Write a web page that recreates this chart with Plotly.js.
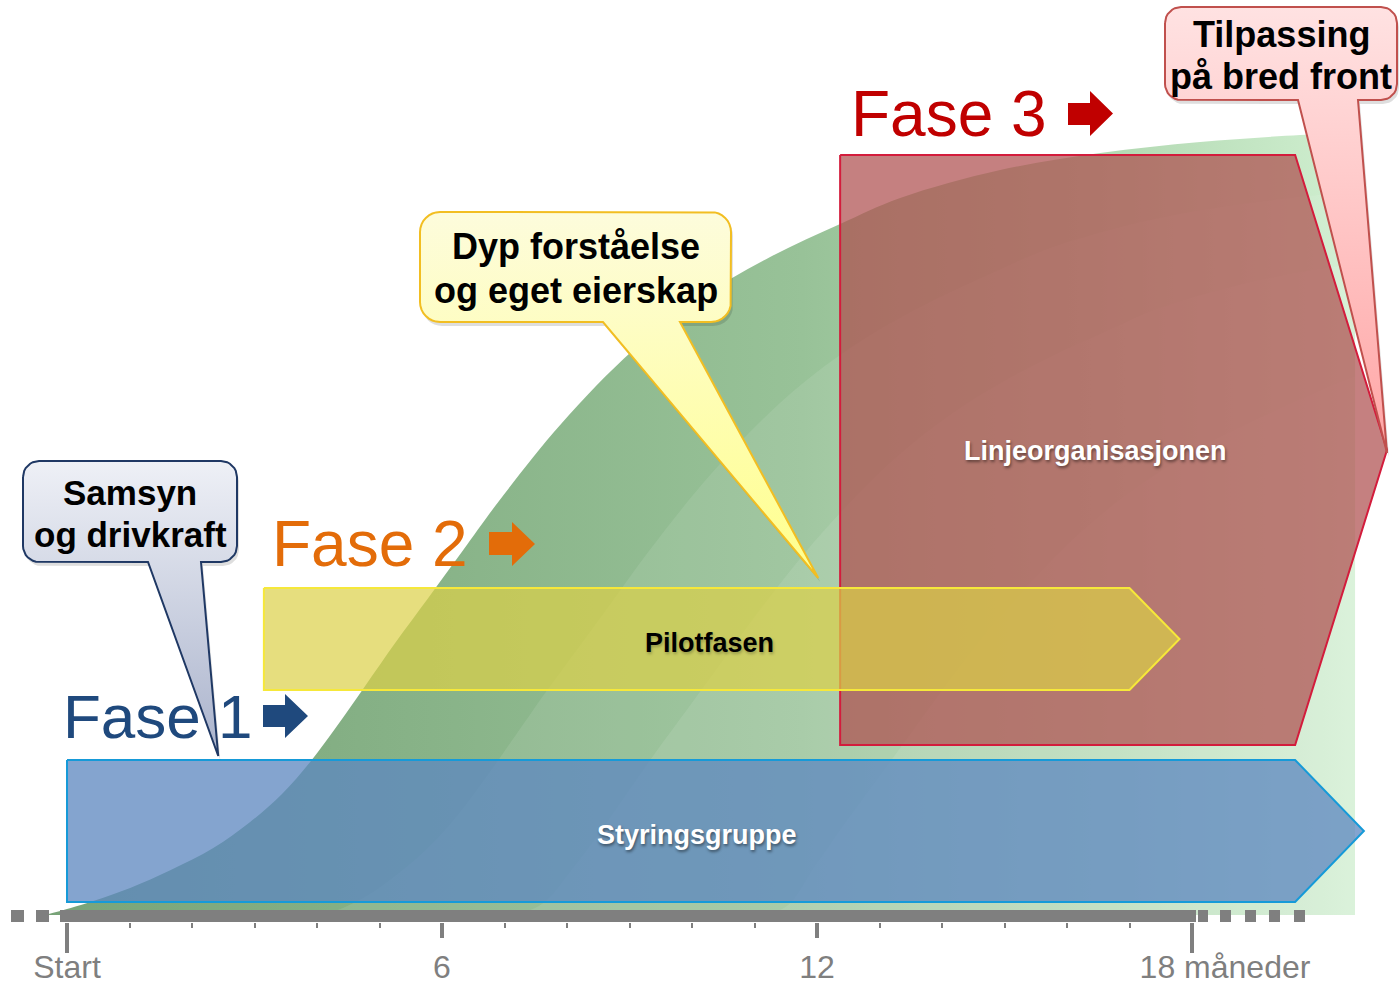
<!DOCTYPE html>
<html><head><meta charset="utf-8">
<script src="https://cdn.plot.ly/plotly-3.0.1.min.js"></script>
<style>html,body{margin:0;padding:0;background:#fff;overflow:hidden}#chart{width:1399px;height:984px;}</style>
</head><body><div id="chart"></div>
<script>
// ===== data =====
const tickMonths = [0, 6, 12, 18];
const tickLabels = ['Start', '6', '12', '18 måneder'];
const minorMonths = [1, 2, 3, 4, 5, 7, 8, 9, 10, 11, 13, 14, 15, 16, 17];

const phaseNames = ['Fase 1', 'Fase 2', 'Fase 3'];

const blockNames = ['Styringsgruppe', 'Pilotfasen', 'Linjeorganisasjonen'];
const blockStart = [0, 3.15, 12.37];
const blockEnd = [19.65, 17.0, 19.65];
const blockTip = [20.75, 17.8, 21.12];

const curveMonth = [-0.35, 0.06, 0.42, 1.01, 1.66, 2.34, 2.93, 3.44, 3.89, 4.32, 4.77, 5.25, 5.78, 6.34, 6.9, 7.89, 9.06, 10.13, 11.25, 12.37, 13.33, 14.93, 16.53, 18.13, 19.73, 20.61];
const curveLevel = [915, 908, 901, 888, 870, 848, 822, 794, 762, 726, 686, 643, 598, 550, 502, 425, 350, 298, 257, 224, 198, 170, 153, 142, 135, 133];

const calloutLines = [['Samsyn', 'og drivkraft'], ['Dyp forståelse', 'og eget eierskap'], ['Tilpassing', 'på bred front']];
const calloutTipMonth = [2.42, 12.02, 21.12];

// ===== layout helpers (pixel geometry) =====
const PX0 = 67, PXM = 62.5;
const m = px => (px - PX0) / PXM;       // pixel column -> month
const toPx = mo => PX0 + mo * PXM;
const FONT = 'Liberation Sans, Arial, Helvetica, sans-serif';
const GREY = '#7f7f7f';
const RIGHT = 1355, BASE = 915;

const blockRows = [[760, 902], [588, 690], [155, 745]];
const blockFill = ['rgba(93,136,192,0.76)', 'rgba(219,208,71,0.70)', 'rgba(174,79,79,0.72)'];
const blockLine = ['#169ad8', '#f6e83a', '#d31c3c'];
const blockLabelPos = [[697, 835], [709, 643], [1095, 451]];
const blockLabelColor = ['#ffffff', '#000000', '#ffffff'];
const blockLabelShadow = ['1px 2px 3px rgba(0,0,0,0.45)', '1px 2px 3px rgba(0,0,0,0.25)', '1px 2px 3px rgba(0,0,0,0.45)'];

const phaseColor = ['#1f497d', '#e36c09', '#c00000'];
const phaseTextPos = [[61, 716], [270, 544], [849, 114]];
const phaseFontSize = [62, 64, 64];
// arrow: shaft x0,x1, shaft y0,y1, head y0,y1, tip x
const phaseArrow = [[263, 285, 705, 727, 694, 738, 308], [489, 512, 532, 555, 522, 566, 535], [1068, 1090, 103, 125, 91, 136, 1113]];

const callBox = [
  {L: 23, R: 237, T: 461, B: 562, r: 16, b1: 148, b2: 201, tipY: 756, fs: 35, lines: [492, 534],
   top: '#eef0f6', bot: '#aab3cc', line: '#1f3864'},
  {L: 420, R: 731, T: 212, B: 322, r: 20, b1: 603, b2: 680, tipY: 578, fs: 36, lines: [246, 290],
   top: '#fdfcdc', bot: '#ffff8c', line: '#f2be22'},
  {L: 1165, R: 1397, T: 7, B: 100, r: 16, b1: 1298, b2: 1358, tipY: 453, fs: 36, lines: [34, 76],
   top: '#ffe2e2', bot: '#ffa6a6', line: '#c0504d'}
];

const traces = [];
const skip = {hoverinfo: 'skip', showlegend: false};

// green adoption curve (filled down to the base line)
const firstM = curveMonth[0], lastM = m(RIGHT);
traces.push(Object.assign({type: 'scatter', mode: 'lines', x: [firstM, lastM], y: [BASE, BASE], line: {width: 0}}, skip));
traces.push(Object.assign({
  type: 'scatter', mode: 'lines', x: curveMonth, y: curveLevel, fill: 'tonexty',
  line: {width: 0, shape: 'spline', smoothing: 1},
  fillcolor: '#9cc59c',
  fillgradient: {type: 'horizontal', start: m(40), stop: m(RIGHT),
    colorscale: [[0, '#78a378'], [0.28, '#87b287'], [0.58, '#98c298'], [0.8, '#b0d7b0'], [1, '#d0efd0']]}
}, skip));
// lighter inner bands (decorative shading of the same curve, shifted)
[[150, 50], [260, 110], [450, 180]].forEach(([dx, dy]) => {
  const bx = [], by = [];
  for (let i = 0; i < curveMonth.length; i++) {
    const px = toPx(curveMonth[i]) + dx;
    const py = Math.min(curveLevel[i] + dy, BASE);
    if (px < RIGHT) { bx.push(m(px)); by.push(py); }
    else {
      const ppx = toPx(curveMonth[i - 1]) + dx, ppy = Math.min(curveLevel[i - 1] + dy, BASE);
      const t = (RIGHT - ppx) / (px - ppx);
      bx.push(m(RIGHT)); by.push(ppy + (py - ppy) * t);
      break;
    }
  }
  traces.push(Object.assign({type: 'scatter', mode: 'lines', x: [bx[0], m(RIGHT)], y: [BASE, BASE], line: {width: 0}}, skip));
  traces.push(Object.assign({type: 'scatter', mode: 'lines', x: bx, y: by, fill: 'tonexty',
    line: {width: 0, shape: 'spline', smoothing: 1}, fillcolor: 'rgba(255,255,255,0.09)'}, skip));
});

// blocks: red first, then blue, then yellow on top
function blockTrace(i) {
  const [t, b] = blockRows[i];
  const mid = (t + b) / 2;
  return Object.assign({type: 'scatter', mode: 'lines',
    x: [blockStart[i], blockEnd[i], blockTip[i], blockEnd[i], blockStart[i], blockStart[i]],
    y: [t, t, mid, b, b, t], fill: 'toself', fillcolor: blockFill[i],
    line: {color: blockLine[i], width: 2}}, skip);
}
traces.push(blockTrace(2), blockTrace(0), blockTrace(1));

// callouts
function calloutPts(c, tipX) {
  const xs = [], ys = [];
  const arc = (cx, cy, a0, a1) => {
    for (let k = 0; k <= 8; k++) {
      const a = (a0 + (a1 - a0) * k / 8) * Math.PI / 180;
      xs.push(cx + c.r * Math.cos(a)); ys.push(cy + c.r * Math.sin(a));
    }
  };
  arc(c.L + c.r, c.T + c.r, 180, 270);
  arc(c.R - c.r, c.T + c.r, 270, 360);
  arc(c.R - c.r, c.B - c.r, 0, 90);
  xs.push(c.b2, tipX, c.b1); ys.push(c.B, c.tipY, c.B);
  arc(c.L + c.r, c.B - c.r, 90, 180);
  xs.push(xs[0]); ys.push(ys[0]);
  return [xs, ys];
}
callBox.forEach((c, i) => {
  const [xs, ys] = calloutPts(c, toPx(calloutTipMonth[i]));
  traces.push(Object.assign({type: 'scatter', mode: 'lines', x: xs.map(v => m(v + 2)), y: ys.map(v => v + 4),
    fill: 'toself', fillcolor: 'rgba(0,0,0,0.13)', line: {width: 0}}, skip));
  traces.push(Object.assign({type: 'scatter', mode: 'lines', x: xs.map(m), y: ys, fill: 'toself',
    fillcolor: c.top,
    fillgradient: {type: 'vertical', start: c.T, stop: c.tipY, colorscale: [[0, c.top], [1, c.bot]]},
    line: {color: c.line, width: 2}}, skip));
});

// dummy traces for overlay axes
traces.push(Object.assign({type: 'scatter', x: [null], y: [null], xaxis: 'x2', yaxis: 'y'}, skip));
traces.push(Object.assign({type: 'scatter', x: [null], y: [null], xaxis: 'x3', yaxis: 'y'}, skip));

// ===== shapes =====
const shapes = [];
shapes.push({type: 'rect', xref: 'x', yref: 'y', x0: m(60), x1: m(1196), y0: 910, y1: 922,
  fillcolor: GREY, line: {width: 0}, layer: 'above'});
[[11, 24], [36, 49], [1198, 1208], [1220, 1231], [1245, 1256], [1269, 1280], [1294, 1305]].forEach(([a, b]) => {
  shapes.push({type: 'rect', xref: 'x', yref: 'y', x0: m(a), x1: m(b), y0: 910, y1: 922,
    fillcolor: GREY, line: {width: 0}, layer: 'above'});
});
phaseArrow.forEach((p, i) => {
  const [sx0, sx1, sy0, sy1, hy0, hy1, tip] = p;
  const mid = (hy0 + hy1) / 2;
  const path = `M ${m(sx0)},${sy0} L ${m(sx1)},${sy0} L ${m(sx1)},${hy0} L ${m(tip)},${mid} L ${m(sx1)},${hy1} L ${m(sx1)},${sy1} L ${m(sx0)},${sy1} Z`;
  shapes.push({type: 'path', xref: 'x', yref: 'y', path, fillcolor: phaseColor[i], line: {width: 0}, layer: 'above'});
});

// ===== annotations =====
const annotations = [];
phaseNames.forEach((t, i) => {
  annotations.push({xref: 'x', yref: 'y', x: m(phaseTextPos[i][0]), y: phaseTextPos[i][1], text: t,
    showarrow: false, xanchor: 'left', yanchor: 'middle',
    font: {family: FONT, size: phaseFontSize[i], color: phaseColor[i]}});
});
blockNames.forEach((t, i) => {
  annotations.push({xref: 'x', yref: 'y', x: m(blockLabelPos[i][0]), y: blockLabelPos[i][1], text: '<b>' + t + '</b>',
    showarrow: false, xanchor: 'center', yanchor: 'middle',
    font: {family: FONT, size: 27, color: blockLabelColor[i], shadow: blockLabelShadow[i]}});
});
callBox.forEach((c, i) => {
  calloutLines[i].forEach((t, k) => {
    annotations.push({xref: 'x', yref: 'y', x: m((c.L + c.R) / 2), y: c.lines[k], text: '<b>' + t + '</b>',
      showarrow: false, xanchor: 'center', yanchor: 'middle',
      font: {family: FONT, size: c.fs, color: '#000000'}});
  });
});

const xr = [m(0), m(1399)];
const axBase = {range: xr, showgrid: false, zeroline: false, showline: false, fixedrange: true,
  tickmode: 'array', ticks: 'outside', tickcolor: GREY, tickwidth: 4,
  tickfont: {family: FONT, size: 32, color: GREY}};

const layout = {
  width: 1399, height: 984, margin: {l: 0, r: 0, t: 0, b: 62},
  paper_bgcolor: '#ffffff', plot_bgcolor: 'rgba(0,0,0,0)', hovermode: false, showlegend: false,
  xaxis: Object.assign({}, axBase, {tickvals: [tickMonths[0]], ticktext: [tickLabels[0]], ticklen: 30, ticklabelstandoff: -13}),
  xaxis2: Object.assign({}, axBase, {overlaying: 'x', anchor: 'y', tickvals: tickMonths.slice(1, 3), ticktext: tickLabels.slice(1, 3),
    ticklen: 15, ticklabelstandoff: 2,
    minor: {tickmode: 'array', tickvals: minorMonths, ticks: 'outside', ticklen: 5, tickwidth: 2, tickcolor: GREY, showgrid: false}}),
  xaxis3: Object.assign({}, axBase, {overlaying: 'x', anchor: 'y', tickvals: [tickMonths[3]], ticktext: [tickLabels[3]],
    ticklen: 30, ticklabelshift: 33, ticklabelstandoff: -13}),
  yaxis: {range: [922, 0], visible: false, fixedrange: true, domain: [0, 1]},
  shapes, annotations
};

Plotly.newPlot('chart', traces, layout, {displayModeBar: false, staticPlot: true});
</script></body></html>
